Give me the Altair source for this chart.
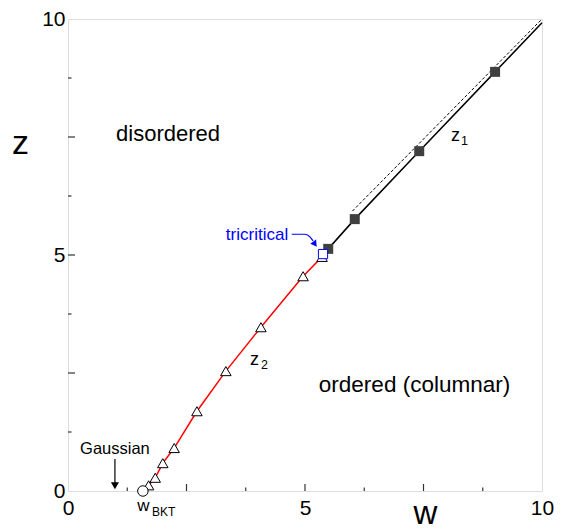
import altair as alt
import pandas as pd

# ---- data ----
tri_w = [1.70, 1.84, 2.00, 2.24, 2.72, 3.33, 4.07, 4.96, 5.36]
tri_z = [0.12, 0.28, 0.59, 0.91, 1.69, 2.54, 3.47, 4.55, 4.96]
bkt_w = [1.58]
bkt_z = [0.0]
tric_w = [5.38]
tric_z = [5.02]
sq_w = [5.49, 6.05, 7.41, 9.01]
sq_z = [5.13, 5.76, 7.20, 8.88]
end_w = [10.0]
end_z = [9.92]
dash_w = [6.0, 10.0]
dash_z = [5.93, 10.0]
long_ticks = [2.5, 5.0, 7.5]
short_ticks = [1.25, 3.75, 6.25, 8.75]
tick_labels = [0, 5, 10]
blue_arrow_w = [4.72, 5.00, 5.11, 5.17]
blue_arrow_z = [5.44, 5.44, 5.38, 5.30]
blue_head_w = [5.21]
blue_head_z = [5.23]
gauss_w = [0.99]
gauss_z_top = [0.68]
gauss_z_bot = [0.15]
gauss_head_z = [0.11]

FONT = "Liberation Sans"

xs = alt.Scale(domain=[0, 10], nice=False, zero=False)
ys = alt.Scale(domain=[0, 10], nice=False, zero=False)
xaxis = alt.Axis(values=tick_labels, ticks=False, domain=False, grid=False,
                 labelFontSize=21, labelPadding=6, labelColor="black",
                 labelFont=FONT, title="w", titleFontSize=33, titleFont=FONT,
                 titleFontWeight="normal", titleX=357, titleY=32,
                 titleBaseline="alphabetic", titleAlign="center",
                 titleColor="black", labelFlush=False, labelOverlap=False)
yaxis = alt.Axis(values=tick_labels, ticks=False, domain=False, grid=False,
                 labelFontSize=21, labelPadding=3, labelColor="black",
                 labelFont=FONT, title="z", titleFontSize=34, titleFont=FONT,
                 titleFontWeight="normal", titleAngle=0, titleX=-48,
                 titleY=134, titleBaseline="alphabetic", titleAlign="center",
                 titleColor="black", labelFlush=False, labelOverlap=False)


def X(f="w"):
    return alt.X(f"{f}:Q", scale=xs, axis=xaxis)


def Y(f="z"):
    return alt.Y(f"{f}:Q", scale=ys, axis=yaxis)


def df(w, z):
    return pd.DataFrame({"w": w, "z": z})


red_line = alt.Chart(df(bkt_w + tri_w + tric_w, bkt_z + tri_z + tric_z)).mark_line(
    color="red", strokeWidth=1.5).encode(x=X(), y=Y())
black_line = alt.Chart(df(tric_w + sq_w + end_w, tric_z + sq_z + end_z)).mark_line(
    color="black", strokeWidth=1.5).encode(x=X(), y=Y())
dash_line = alt.Chart(df(dash_w, dash_z)).mark_line(
    color="black", strokeWidth=1, strokeDash=[3, 2]).encode(x=X(), y=Y())

triangles = alt.Chart(df(tri_w, tri_z)).mark_point(
    shape="triangle-up", size=110, filled=True, fill="white", stroke="black",
    strokeWidth=1, opacity=1).encode(x=X(), y=Y())
squares = alt.Chart(df(sq_w, sq_z)).mark_point(
    shape="square", size=100, filled=True, color="#404040", opacity=1).encode(x=X(), y=Y())
tric = alt.Chart(df(tric_w, tric_z)).mark_point(
    shape="square", size=85, filled=True, fill="white", stroke="blue",
    strokeWidth=1, opacity=1).encode(x=X(), y=Y())
bkt = alt.Chart(df(bkt_w, bkt_z)).mark_point(
    shape="circle", size=110, filled=True, fill="white", stroke="black",
    strokeWidth=1, opacity=1).encode(x=X(), y=Y())

blue_arrow = alt.Chart(df(blue_arrow_w, blue_arrow_z)).mark_line(
    color="blue", strokeWidth=1.2, interpolate="monotone").encode(x=X(), y=Y())
blue_head = alt.Chart(df(blue_head_w, blue_head_z)).mark_point(
    shape="triangle-up", size=50, angle=145, filled=True, color="blue",
    opacity=1).encode(x=X(), y=Y())

gauss_rule = alt.Chart(pd.DataFrame({"w": gauss_w, "z": gauss_z_top, "z2": gauss_z_bot})).mark_rule(
    color="black", strokeWidth=1.2).encode(x=X(), y=Y(), y2="z2:Q")
gauss_head = alt.Chart(df(gauss_w, gauss_head_z)).mark_point(
    shape="triangle-down", size=65, filled=True, color="black", opacity=1).encode(x=X(), y=Y())

long_x = alt.Chart(pd.DataFrame({"w": long_ticks})).mark_rule(color="#333", strokeWidth=1.2).encode(
    x=X(), y=alt.value(472), y2=alt.value(465))
short_x = alt.Chart(pd.DataFrame({"w": short_ticks})).mark_rule(color="#333", strokeWidth=1.2).encode(
    x=X(), y=alt.value(472), y2=alt.value(468.5))
long_y = alt.Chart(pd.DataFrame({"z": long_ticks})).mark_rule(color="#333", strokeWidth=1.2).encode(
    y=Y(), x=alt.value(0), x2=alt.value(7))
short_y = alt.Chart(pd.DataFrame({"z": short_ticks})).mark_rule(color="#333", strokeWidth=1.2).encode(
    y=Y(), x=alt.value(0), x2=alt.value(3.5))


def label(text, w, z, size, align="left", color="black"):
    return alt.Chart(pd.DataFrame({"w": [w], "z": [z], "t": [text]})).mark_text(
        font=FONT, fontSize=size, align=align, baseline="alphabetic", color=color
    ).encode(x=X(), y=Y(), text="t:N")


texts = [
    label("disordered", 2.11, 7.42, 22, "center"),
    label("ordered (columnar)", 7.31, 2.10, 22.5, "center"),
    label("z", 3.84, 2.67, 18),
    label("2", 4.07, 2.58, 12.5),
    label("z", 8.08, 7.42, 18),
    label("1", 8.29, 7.33, 12.5),
    label("tricritical", 3.33, 5.32, 17, color="blue"),
    label("Gaussian", 0.99, 0.78, 16.5, "center"),
    label("w", 1.46, -0.42, 17),
    label("BKT", 1.77, -0.53, 12),
]

chart = alt.layer(
    long_x, short_x, long_y, short_y,
    red_line, black_line, dash_line, blue_arrow, gauss_rule,
    triangles, squares, tric, bkt, blue_head, gauss_head,
    *texts,
).properties(
    width=474, height=472,
    autosize=alt.AutoSizeParams(type="none"),
    padding={"left": 60, "top": 11, "right": 12, "bottom": 40},
).configure_view(
    stroke="#333", strokeWidth=1.5
).configure(background="white")

chart.save("out.html", embed_options={"renderer": "svg", "actions": False})
